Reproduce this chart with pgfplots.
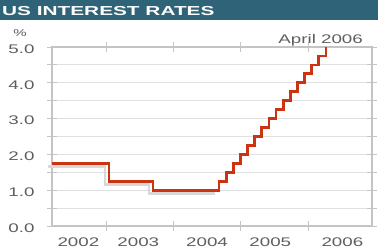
\documentclass[border=0pt]{standalone}
\usepackage{fontspec}
\setmainfont{Liberation Sans}[FakeStretch=1.5]
\newfontfamily\titlefont{Liberation Sans}[FakeStretch=1.6]
\usepackage{pgfplots}
\pgfplotsset{compat=1.18}
\definecolor{barteal}{HTML}{2F6377}
\definecolor{rateRed}{HTML}{CC3311}
\definecolor{txtgray}{HTML}{5E5E5E}
\definecolor{gridgray}{HTML}{E0E0E0}
\definecolor{axgray}{HTML}{C4C4C4}
\definecolor{shadowgray}{HTML}{D8D8D8}
\begin{document}
\begin{tikzpicture}[x=1pt,y=1pt]
\useasboundingbox (0,0) rectangle (378,252);
\fill[white] (0,0) rectangle (378,252);
\fill[barteal] (0,232) rectangle (378,252);
\node[anchor=base west, inner sep=0, text=white] at (2,236) {\titlefont\bfseries\fontsize{13}{15}\selectfont US INTEREST RATES};
\node[text=txtgray, inner sep=0] at (20,219) {\fontsize{10}{12}\selectfont \%};
\begin{axis}[
  scale only axis,
  width=320pt, height=179pt,
  at={(52pt,26pt)}, anchor=south west,
  xmin=2002.198, xmax=2006.95,
  ymin=0, ymax=5,
  xtick={2003,2004,2005,2006},
  xticklabels={},
  extra x ticks={2002.59,2003.48,2004.50,2005.44,2006.51},
  extra x tick labels={2002,2003,2004,2005,2006},
  extra x tick style={tick style={draw=none}, grid=none},
  ytick={0,1,2,3,4,5},
  minor ytick={0.5,1.5,2.5,3.5,4.5},
  ymajorgrids, yminorgrids,
  major grid style={gridgray, line width=1pt},
  minor grid style={gridgray, line width=1pt},
  axis line style={axgray, line width=1.3pt},
  tick style={axgray, line width=1pt},
  tick align=center,
  major tick length=10pt, minor tick length=10pt,
  /pgf/number format/fixed,
  /pgf/number format/fixed zerofill,
  /pgf/number format/precision=1,
  /pgf/number format/assume math mode=true,
  ticklabel style={text=txtgray, font=\fontsize{12.5}{14}\selectfont},
  yticklabel style={xshift=-9pt, yshift=-2pt},
  xticklabel style={yshift=-3pt},
  clip=false,
]
\addplot[const plot, shadowgray, line width=2.8pt, xshift=-4pt, yshift=-3.5pt] coordinates {
(2002.198,1.75) (2003.045,1.25) (2003.698,1.0) (2004.678,1.0)
};
\addplot[const plot, rateRed, line width=2.8pt] coordinates {
(2002.198,1.75) (2003.045,1.25) (2003.698,1.0) (2004.678,1.25) (2004.784,1.5)
(2004.891,1.75) (2004.996,2.0) (2005.102,2.25) (2005.209,2.5) (2005.314,2.75)
(2005.419,3.0) (2005.525,3.25) (2005.632,3.5) (2005.737,3.75) (2005.843,4.0)
(2005.950,4.25) (2006.055,4.5) (2006.161,4.75) (2006.268,5.0)
};
\node[anchor=base east, inner sep=0, text=txtgray] at (axis cs:2006.817,5.11) {\fontsize{12.5}{14}\selectfont April 2006};
\end{axis}
\end{tikzpicture}
\end{document}
